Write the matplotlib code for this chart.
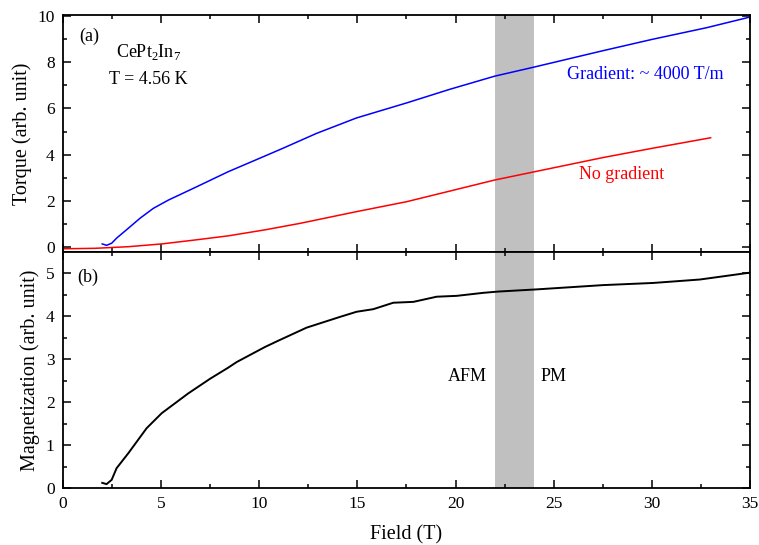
import matplotlib
matplotlib.use('Agg')
from matplotlib import pyplot as plt
import numpy as np

plt.rcParams['font.family'] = ['Liberation Serif', 'DejaVu Serif']
plt.rcParams['mathtext.fontset'] = 'custom'
plt.rcParams['mathtext.rm'] = 'Liberation Serif'

# torque with gradient (blue)
field_grad = [2.0, 2.22, 2.48, 2.73, 3.33, 3.92, 4.6, 5.37, 6.72, 8.42, 10.29, 11.22,
              12.92, 14.96, 17.51, 19.71, 22.0, 24.04, 27.5, 30.0, 32.8, 35.0]
torque_grad = [0.13, 0.07, 0.16, 0.38, 0.81, 1.24, 1.67, 2.03, 2.57, 3.26, 3.94, 4.28,
               4.92, 5.59, 6.24, 6.83, 7.4, 7.8, 8.5, 8.99, 9.5, 9.96]

# torque without gradient (red)
field_nograd = [0.0, 1.63, 3.33, 5.03, 6.72, 8.42, 10.29, 12.07, 14.96, 17.51, 19.71,
                22.0, 24.04, 27.5, 30.0, 33.0]
torque_nograd = [-0.08, -0.06, 0.01, 0.13, 0.30, 0.48, 0.74, 1.02, 1.53, 1.96, 2.42,
                 2.9, 3.26, 3.87, 4.27, 4.73]

# magnetization (black)
field_mag = [2.0, 2.22, 2.48, 2.73, 3.33, 4.26, 5.03, 6.38, 7.49, 8.42, 8.85, 10.29,
             10.89, 12.41, 14.11, 14.96, 15.81, 16.83, 17.85, 19.04, 20.06, 21.41,
             22.18, 24.12, 27.52, 30.07, 32.45, 35.0]
mag = [0.12, 0.09, 0.19, 0.46, 0.81, 1.39, 1.74, 2.2, 2.54, 2.8, 2.93, 3.28,
       3.41, 3.73, 3.98, 4.1, 4.16, 4.31, 4.33, 4.45, 4.47, 4.54,
       4.57, 4.62, 4.72, 4.77, 4.85, 5.01]

band = (22, 24)

fig = plt.figure(figsize=(7.59, 5.45), dpi=100)
ax1 = fig.add_axes([0.083, 0.5376, 0.905, 0.4349])
ax2 = fig.add_axes([0.083, 0.1046, 0.905, 0.433])

for ax in (ax1, ax2):
    ax.axvspan(band[0], band[1], color='#c0c0c0', lw=0, zorder=0)
    ax.set_xlim(0, 35)
    ax.set_xticks(np.arange(0, 36, 5))
    ax.set_xticks(np.arange(0, 35.1, 2.5), minor=True)
    ax.tick_params(which='both', direction='in', top=True, right=True, width=1.1,
                   labelsize=12.5, pad=6)
    ax.tick_params(which='major', length=6)
    ax.tick_params(which='minor', length=3)
    for s in ax.spines.values():
        s.set_linewidth(1.3)

ax1.plot(field_grad, torque_grad, color='blue', lw=1.1)
ax1.plot(field_nograd, torque_nograd, color='red', lw=1.1)
ax1.set_ylim(-0.22, 10.05)
ax1.set_yticks([0, 2, 4, 6, 8, 10])
ax1.set_yticks(np.arange(0, 10.1, 1), minor=True)
ax1.tick_params(labelbottom=False)
ax1.set_ylabel('Torque (arb. unit)', fontsize=14.5)

ax1.text(1.35, 9.13, '(a)', fontsize=13, ha='center', va='center')
ax1.text(4.38, 8.44, r'CePt$_\mathregular{2}$In$_\mathregular{7}$', fontsize=13,
         ha='center', va='center')
ax1.text(4.36, 7.27, 'T = 4.56 K', fontsize=13, ha='center', va='center')
ax1.text(29.65, 7.49, 'Gradient: ~ 4000 T/m', fontsize=13, color='blue',
         ha='center', va='center')
ax1.text(28.48, 3.12, 'No gradient', fontsize=13, color='red',
         ha='center', va='center')

ax2.plot(field_mag, mag, color='black', lw=1.4)
ax2.set_ylim(0, 5.49)
ax2.set_yticks([0, 1, 2, 3, 4, 5])
ax2.set_yticks(np.arange(0, 5.1, 0.5), minor=True)
ax2.set_ylabel('Magnetization (arb. unit)', fontsize=14.5)
ax2.set_xlabel('Field (T)', fontsize=14.5, labelpad=9)

ax2.text(1.25, 4.9, '(b)', fontsize=13, ha='center', va='center')
ax2.text(20.58, 2.6, 'AFM', fontsize=13, ha='center', va='center')
ax2.text(25.0, 2.6, 'PM', fontsize=13, ha='center', va='center')

fig.align_ylabels([ax1, ax2])

fig.savefig('out.png', dpi=100)
